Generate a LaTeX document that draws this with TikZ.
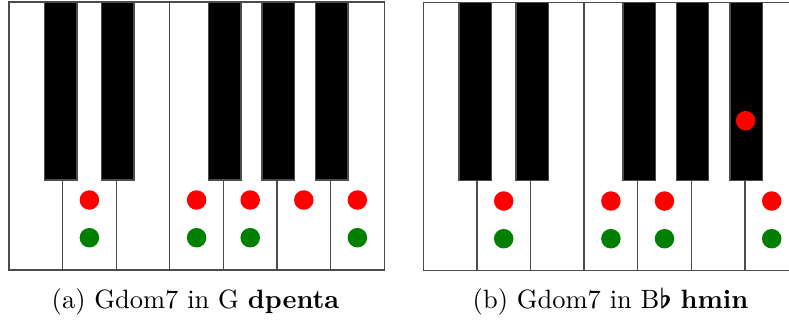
\documentclass[tikz,border=0pt]{standalone}
\usetikzlibrary{positioning}

\tikzset{
  whitekey/.style={draw=black!70, fill=white, line width=0.5pt},
  blackkey/.style={draw=black!70, fill=black, line width=0.5pt},
  reddot/.style={circle, fill=red, inner sep=0pt, minimum size=7.8pt},
  greendot/.style={circle, fill=green!50!black, inner sep=0pt, minimum size=7.8pt},
  caption/.style={anchor=base, font=\fontsize{10.6}{13}\selectfont},
}

\begin{document}
\begin{tikzpicture}[x=0.4pt, y=-0.4pt]
        \useasboundingbox (0,0) rectangle (789,321);

        % two keyboards, C to B
        \foreach \kx/\ky in {9/2, 423.3/2.7} {
          \begin{scope}[shift={(\kx,\ky)}]
            \foreach \i in {0,...,6}
              \draw[whitekey] (\i*53.6,0) rectangle ++(53.6,268);
            \foreach \b in {35.7,92.7,199.7,253,306.7}
              \draw[blackkey] (\b,0) rectangle ++(32.3,178);
          \end{scope}
        }

        % (a)
        \foreach \n/\x in {d/89.4, f/196.6, g/250.2, a/303.8, b/357.4}
          \node[reddot] (a-r\n) at (\x,200) {};
        \foreach \n/\x in {d/89.4, f/196.6, g/250.2, b/357.4}
          \node[greendot] (a-g\n) at (\x,237.7) {};

        % (b)
        \foreach \n/\x in {d/503.7, f/610.9, g/664.5, b/771.7}
          \node[reddot] (b-r\n) at (\x,201) {};
        \node[reddot] (b-rbes) at (745.6,120.7) {};
        \foreach \n/\x in {d/503.7, f/610.9, g/664.5, b/771.7}
          \node[greendot] (b-g\n) at (\x,238.7) {};

        \node[caption] (capa) at (195.5,308) {(a) Gdom7 in G \textbf{dpenta}};
        \node[caption] (capb) at (610.5,308) {(b) Gdom7 in B{\boldmath$\flat$} \textbf{hmin}};

      \end{tikzpicture}
\end{document}
